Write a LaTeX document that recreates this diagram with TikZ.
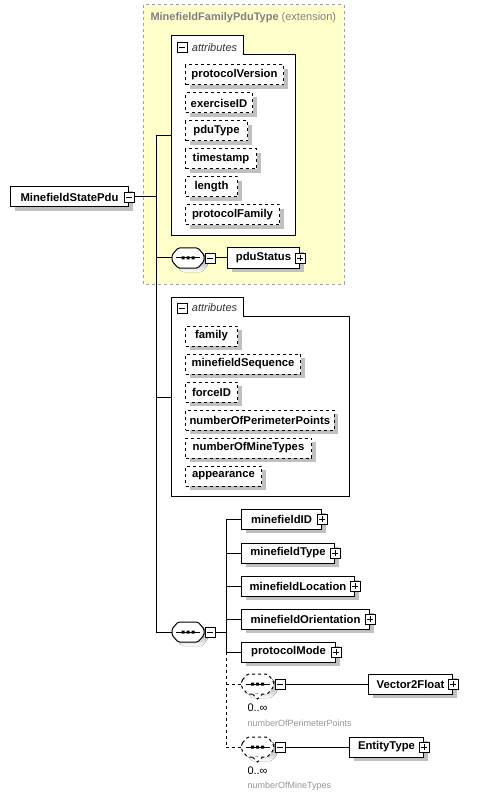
\documentclass[tikz,border=0pt]{standalone}
\usepackage{fontspec}
\setmainfont{Liberation Sans}
\usetikzlibrary{positioning, shadows}
\definecolor{extfill}{RGB}{255,255,204}
\definecolor{extline}{RGB}{160,160,160}
\definecolor{shade}{RGB}{192,192,192}
\definecolor{labgray}{RGB}{128,128,128}
\definecolor{occgray}{RGB}{150,150,150}

\begin{document}
\begin{tikzpicture}[x=1pt, y=-1pt, line width=1pt,
        elem/.style={rectangle, draw, fill=white, anchor=west, font=\fontsize{11.3}{13}\selectfont\bfseries,
            minimum height=20pt, inner xsep=4pt, inner ysep=0pt,
            drop shadow={shadow xshift=4pt, shadow yshift=-4pt, fill=shade, opacity=1}},
        attr/.style={elem, dashed},
        grpframe/.style={draw, fill=white},
        grplabel/.style={anchor=west, font=\fontsize{11}{13}\selectfont\itshape, text=black!80, inner sep=0pt},
        tog/.style={rectangle, draw, fill=white, minimum size=10pt, inner sep=0pt, line width=0.8pt},
        collapse/.style={tog, path picture={
            \draw ([xshift=2pt]path picture bounding box.west) -- ([xshift=-2pt]path picture bounding box.east);}},
        expand/.style={tog, path picture={
            \draw ([xshift=2pt]path picture bounding box.west) -- ([xshift=-2pt]path picture bounding box.east);
            \draw ([yshift=2pt]path picture bounding box.south) -- ([yshift=-2pt]path picture bounding box.north);}},
        seqbox/.pic={
            \fill[shade, solid, rounded corners=1.5pt, shift={(4,4)}] (-16,-3) -- (-10,-10) -- (10,-10) -- (16,-3)
                -- (16,3) -- (10,10) -- (-10,10) -- (-16,3) -- cycle;
            \draw[pic actions, fill=white, rounded corners=1.5pt] (-16,-3) -- (-10,-10) -- (10,-10) -- (16,-3)
                -- (16,3) -- (10,10) -- (-10,10) -- (-16,3) -- cycle;
            \draw[solid] (-12,0) -- (12,0);
            \fill (-6.5,-1.5) rectangle (-3.5,1.5) (-1.5,-1.5) rectangle (1.5,1.5) (3.5,-1.5) rectangle (6.5,1.5);
            \coordinate (-w) at (-16,0);
            \coordinate (-e) at (16,0);
            \coordinate (-s) at (0,10);},
        occ/.style={anchor=west, font=\fontsize{11}{13}\selectfont, inner sep=0pt},
        occname/.style={anchor=west, font=\fontsize{9}{11}\selectfont, text=occgray, inner sep=0pt}
    ]
        \useasboundingbox (0,0) rectangle (479,799);

        % Extension frame
        \draw[extline, fill=extfill, dashed] (143,5) rectangle (344,284);
        \node[anchor=west, text=labgray, font=\fontsize{11}{13}\selectfont, inner sep=0pt] (ext) at (150,18)
            {\textbf{MinefieldFamilyPduType} (extension)};

        % Inherited attributes
        \draw[grpframe] (171,36) -- (243,36) -- (243,55) -- (295,55) -- (295,236) -- (171,236) -- cycle;
        \coordinate (g1w) at (171,136);
        \node[collapse] (g1c) at (182,47.5) {};
        \node[grplabel, right=4pt of g1c] (g1l) {attributes};
        \node[attr, minimum width=98pt] (pv) at (185,75) {protocolVersion};
        \node[attr, minimum width=67pt] (exid) at (185,103) {exerciseID};
        \node[attr, minimum width=62pt] (pdut) at (185,131) {pduType};
        \node[attr, minimum width=71pt] (ts) at (185,159) {timestamp};
        \node[attr, minimum width=52pt] (len) at (185,187) {length};
        \node[attr, minimum width=94pt] (pf) at (185,215) {protocolFamily};

        % Root element and trunk
        \node[elem, minimum width=118pt] (msp) at (10,197) {MinefieldStatePdu};
        \node[collapse] (mspc) at (msp.east) {};
        \coordinate (t1) at (156,136);
        \coordinate (t2) at (156,632);
        \draw (t1) -- (t2);
        \draw (mspc.east) -- (mspc.east -| t1);
        \draw (t1) -- (g1w);

        % pduStatus sequence
        \pic (s1) at (188,258) {seqbox};
        \node[collapse, right=1pt of s1-e] (s1c) {};
        \node[elem, minimum width=72pt] (pdus) at (227,258) {pduStatus};
        \node[expand] (pdusx) at (pdus.east) {};
        \draw (s1-w -| t1) -- (s1-w);
        \draw (s1c) -- (pdus);

        % Own attributes
        \draw[grpframe] (171,297) -- (243,297) -- (243,316) -- (349,316) -- (349,496) -- (171,496) -- cycle;
        \coordinate (g2w) at (171,397);
        \node[collapse] (g2c) at (182,308) {};
        \node[grplabel, right=4pt of g2c] (g2l) {attributes};
        \node[attr, minimum width=52pt] (fam) at (185,336) {family};
        \node[attr, minimum width=115pt] (mfs) at (185,364) {minefieldSequence};
        \node[attr, minimum width=52pt] (fid) at (185,392) {forceID};
        \node[attr, minimum width=148pt] (nopp) at (185,420) {numberOfPerimeterPoints};
        \node[attr, minimum width=126pt] (nomt) at (185,448) {numberOfMineTypes};
        \node[attr, minimum width=76pt] (app) at (185,476) {appearance};
        \draw (t1 |- g2w) -- (g2w);

        % Main sequence
        \pic (s2) at (188,632) {seqbox};
        \node[collapse, right=1pt of s2-e] (s2c) {};
        \draw (t2) -- (s2-w);
        \coordinate (b1) at (226,519);
        \coordinate (b2) at (226,652);
        \coordinate (b3) at (226,747);
        \draw (s2c) -- (s2c -| b1);
        \draw (b1) -- (b2);
        \draw[dashed] (b2) -- (b3);

        \node[elem, minimum width=80pt] (mid) at (241,519) {minefieldID};
        \node[expand] at (mid.east) {};
        \node[elem, minimum width=93pt] (mty) at (241,553) {minefieldType};
        \node[expand] at (mty.east) {};
        \node[elem, minimum width=113pt] (mloc) at (241,586) {minefieldLocation};
        \node[expand] at (mloc.east) {};
        \node[elem, minimum width=128pt] (mor) at (241,619) {minefieldOrientation};
        \node[expand] at (mor.east) {};
        \node[elem, minimum width=94pt] (pm) at (241,652) {protocolMode};
        \node[expand] at (pm.east) {};
        \draw (b1) -- (mid);
        \draw (b1 |- mty) -- (mty);
        \draw (b1 |- mloc) -- (mloc);
        \draw (b1 |- mor) -- (mor);
        \draw (b2) -- (pm);

        % Perimeter points
        \pic[dashed] (s3) at (257.5,684) {seqbox};
        \draw[dashed, fill=white, line width=0.8pt] ([xshift=-5pt]s3-s) -- ([yshift=-5pt]s3-s) -- ([xshift=5pt]s3-s);
        \node[collapse, right=1pt of s3-e] (s3c) {};
        \node[elem, minimum width=84pt] (v2f) at (368,684) {Vector2Float};
        \node[expand] at (v2f.east) {};
        \draw[dashed] (b2 |- s3-w) -- (s3-w);
        \draw (s3c) -- (v2f);
        \node[occ] (s3n) at (247,708) {0..∞};
        \node[occname] (s3t) at (247,723) {numberOfPerimeterPoints};

        % Mine types
        \pic[dashed] (s4) at (257.5,747) {seqbox};
        \draw[dashed, fill=white, line width=0.8pt] ([xshift=-5pt]s4-s) -- ([yshift=-5pt]s4-s) -- ([xshift=5pt]s4-s);
        \node[collapse, right=1pt of s4-e] (s4c) {};
        \node[elem, minimum width=74pt] (ent) at (349,747) {EntityType};
        \node[expand] at (ent.east) {};
        \draw[dashed] (b3) -- (s4-w);
        \draw (s4c) -- (ent);
        \node[occ] (s4n) at (247,771) {0..∞};
        \node[occname] (s4t) at (247,786) {numberOfMineTypes};

    \end{tikzpicture}
\end{document}
